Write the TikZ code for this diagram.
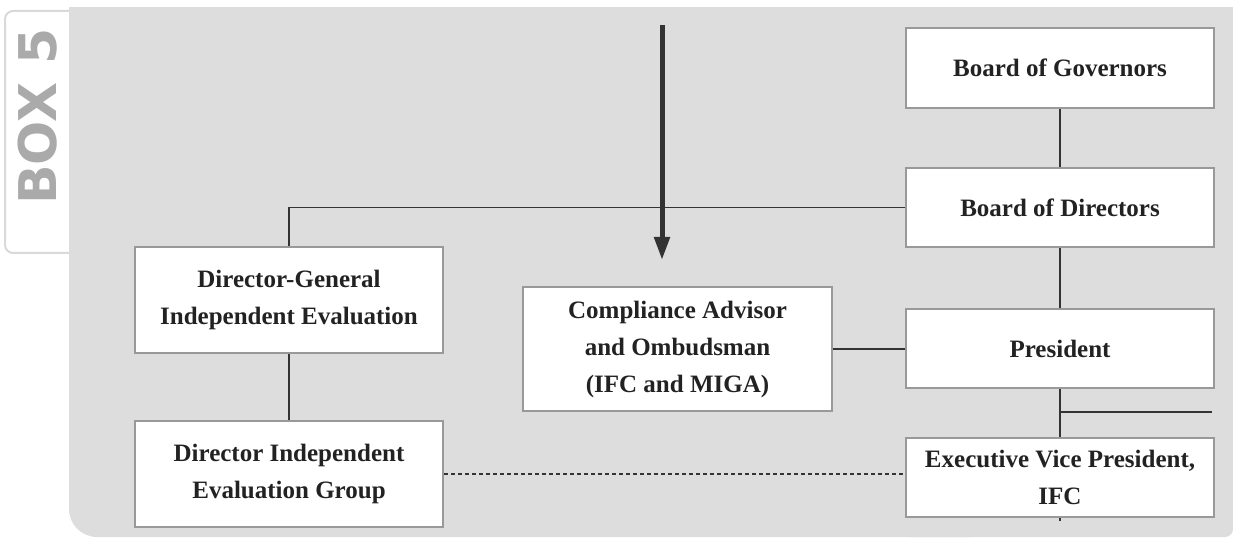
\documentclass[tikz,border=0pt]{standalone}
\usepackage{fontspec}
\setmainfont{Liberation Serif}
\newfontfamily\boxfont{DejaVu Sans}
\usetikzlibrary{arrows.meta}
\definecolor{bgc}{HTML}{DDDDDD}
\definecolor{boxline}{HTML}{999999}
\definecolor{tabline}{HTML}{D9D9D9}
\definecolor{tabtext}{HTML}{AAAAAA}
\definecolor{txt}{HTML}{222222}
\definecolor{conn}{HTML}{333333}
\tikzset{
  orgbox/.style={draw=boxline, fill=white, line width=2.5pt, inner sep=0pt,
    align=center, text=txt, font=\fontsize{25}{37}\selectfont\bfseries,
    minimum width=308pt},
  link/.style={draw=conn, line width=1.3pt},
  dotlink/.style={draw=conn, line width=1.3pt, dash pattern=on 4pt off 3pt},
  bigarrow/.style={draw=conn, line width=5pt, -{Triangle[width=15pt,length=23pt]}}
}
\begin{document}
\begin{tikzpicture}[x=1pt,y=1pt]
\useasboundingbox (0,0) rectangle (1233,538);
% BOX 5 tab
\draw[tabline, fill=white, line width=2pt, rounded corners=8pt] (5,285) rectangle (100,527);
\node[rotate=90, text=tabtext, font=\boxfont\bfseries\fontsize{52}{52}\selectfont, inner sep=0pt] (boxlabel) at (38,421.5) {BOX 5};
% gray background
\begin{scope}
\clip (69,0) rectangle (1233,530);
\fill[bgc, rounded corners=28pt] (69,1) rectangle (1000,600);
\fill[bgc, rounded corners=8pt] (900,1) rectangle (1233,600);
\end{scope}
% boxes
\node[orgbox, minimum height=80pt] (bog) at (1060,470) {Board of Governors};
\node[orgbox, minimum height=79pt] (bod) at (1060,330.5) {Board of Directors};
\node[orgbox, minimum height=79pt] (pres) at (1060,189.5) {President};
\node[orgbox, minimum height=79pt] (evp) at (1060,60.5) {Executive Vice President,\\IFC};
\node[orgbox, minimum height=124pt, minimum width=309pt] (cao) at (677.5,189) {Compliance Advisor\\and Ombudsman\\(IFC and MIGA)};
\node[orgbox, minimum height=106pt] (dg) at (289,238) {Director-General\\Independent Evaluation};
\node[orgbox, minimum height=106pt] (dieg) at (289,64) {Director Independent\\Evaluation Group};
% coordinates
\coordinate (br) at (1212,126);
\coordinate (arrtop) at (662,513);
\coordinate (arrtip) at (662,278);
\coordinate (tick) at (1060,17);
% connectors (drawn behind boxes would be nicer; lines meet borders)
\begin{scope}[on background layer/.style={}]
\draw[link] (bog.south) -- (bod.north);
\draw[link] (bod.south) -- (pres.north);
\draw[link] (pres.south) -- (evp.north);
\draw[link] (bod.west) -| (dg.north);
\draw[link] (cao.east) -- (cao.east -| pres.west);
\draw[link] (dg.south) -- (dieg.north);
\draw[dotlink] (dieg.east) -- (dieg.east -| evp.west);
\draw[link] (pres.south |- br) -- (br);
\draw[link] (evp.south) -- (tick);
\end{scope}
\draw[bigarrow] (arrtop) -- (arrtip);
\end{tikzpicture}
\end{document}
